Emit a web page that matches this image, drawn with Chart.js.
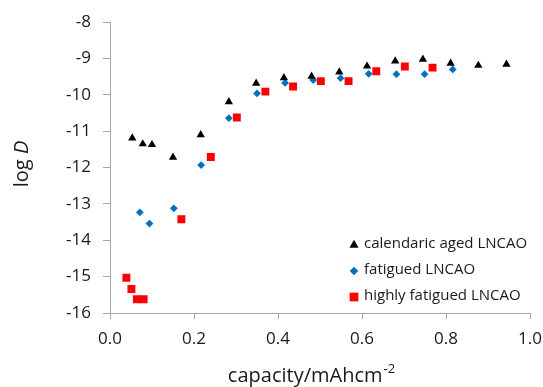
<!DOCTYPE html>
<html>
<head>
<meta charset="utf-8">
<script src="https://cdn.jsdelivr.net/npm/chart.js@4/dist/chart.umd.min.js"></script>
<style>
  html, body { margin: 0; padding: 0; background: #fff; }
  #wrap { width: 543px; height: 387px; position: relative; }
</style>
</head>
<body>
<div id="wrap"><canvas id="logD"></canvas></div>
<script>
// values
const calendaricX = [0.053, 0.078, 0.100, 0.150, 0.216, 0.283, 0.348, 0.414, 0.480, 0.546, 0.612, 0.679, 0.745, 0.811, 0.877, 0.944];
const calendaricY = [-11.19, -11.35, -11.37, -11.72, -11.10, -10.19, -9.68, -9.53, -9.49, -9.37, -9.21, -9.07, -9.02, -9.13, -9.19, -9.16];

const fatiguedX = [0.071, 0.094, 0.152, 0.217, 0.283, 0.350, 0.417, 0.484, 0.549, 0.616, 0.682, 0.749, 0.816];
const fatiguedY = [-13.23, -13.54, -13.12, -11.93, -10.64, -9.96, -9.67, -9.59, -9.54, -9.42, -9.43, -9.43, -9.30];

const highlyX = [0.039, 0.051, 0.064, 0.080, 0.170, 0.240, 0.302, 0.370, 0.436, 0.502, 0.568, 0.634, 0.702, 0.768];
const highlyY = [-15.03, -15.34, -15.62, -15.62, -13.42, -11.71, -10.62, -9.91, -9.77, -9.62, -9.62, -9.35, -9.22, -9.25];

const seriesNames = ['calendaric aged LNCAO', 'fatigued LNCAO', 'highly fatigued LNCAO'];
const xTicks = [0, 0.2, 0.4, 0.6, 0.8, 1.0];
const yTicks = [-16, -15, -14, -13, -12, -11, -10, -9, -8];

const FONT = '"Open Sans", "DejaVu Sans", sans-serif';
const AXIS_GREY = '#a6a6a6';

const toPoints = (xs, ys) => xs.map((x, i) => ({ x: x, y: ys[i] }));

// draws the in-plot legend and the two axis titles
const decorations = {
    id: 'decorations',
    afterDraw(chart) {
        const ctx = chart.ctx;
        ctx.save();

        // legend
        const rows = [244, 270, 296];
        ctx.font = '15px ' + FONT;
        ctx.textBaseline = 'middle';
        ctx.textAlign = 'left';
        chart.data.datasets.forEach((ds, i) => {
            const opts = {
                pointStyle: ds.pointStyle,
                radius: ds.pointRadius * 1.1,
                rotation: 0,
                borderWidth: 0
            };
            ctx.fillStyle = ds.backgroundColor;
            ctx.strokeStyle = ds.backgroundColor;
            Chart.helpers.drawPoint(ctx, opts, 354, rows[i] + 1);
            ctx.fillStyle = '#1a1a1a';
            ctx.fillText(ds.label, 364, rows[i]);
        });

        // x title with superscript
        ctx.fillStyle = '#1a1a1a';
        ctx.textBaseline = 'alphabetic';
        const main = 'capacity/mAhcm';
        ctx.font = '20px ' + FONT;
        const wMain = ctx.measureText(main).width;
        ctx.font = '13px ' + FONT;
        const wSup = ctx.measureText('-2').width;
        const x0 = 311 - (wMain + wSup) / 2;
        ctx.font = '20px ' + FONT;
        ctx.fillText(main, x0, 382);
        ctx.font = '13px ' + FONT;
        ctx.fillText('-2', x0 + wMain + 1, 373);

        // y title: log D (D italic)
        ctx.translate(28, 164);
        ctx.rotate(-Math.PI / 2);
        ctx.font = '20px ' + FONT;
        const a = 'log ';
        const wa = ctx.measureText(a).width;
        ctx.font = 'italic 20px ' + FONT;
        const wb = ctx.measureText('D').width;
        ctx.font = '20px ' + FONT;
        ctx.fillText(a, -(wa + wb) / 2, 0);
        ctx.font = 'italic 20px ' + FONT;
        ctx.fillText('D', -(wa + wb) / 2 + wa, 0);

        ctx.restore();
    }
};

const ctx = document.getElementById('logD').getContext('2d');
const chart = new Chart(ctx, {
    type: 'scatter',
    data: {
        datasets: [{
            label: seriesNames[0],
            data: toPoints(calendaricX, calendaricY),
            pointStyle: 'triangle',
            pointRadius: 4.8,
            backgroundColor: '#000000',
            borderColor: '#000000',
            pointBorderWidth: 0
        }, {
            label: seriesNames[1],
            data: toPoints(fatiguedX, fatiguedY),
            pointStyle: 'rectRot',
            pointRadius: 3.9,
            backgroundColor: '#0070c0',
            borderColor: '#0070c0',
            pointBorderWidth: 0
        }, {
            label: seriesNames[2],
            data: toPoints(highlyX, highlyY),
            pointStyle: 'rect',
            pointRadius: 5.6,
            backgroundColor: '#ff0000',
            borderColor: '#ff0000',
            pointBorderWidth: 0
        }]
    },
    options: {
        responsive: true,
        maintainAspectRatio: false,
        animation: false,
        layout: { padding: { top: 20, right: 13, left: 0, bottom: 0 } },
        plugins: {
            legend: { display: false },
            tooltip: { enabled: false }
        },
        scales: {
            x: {
                type: 'linear',
                min: 0,
                max: 1,
                afterBuildTicks: (scale) => { scale.ticks = xTicks.map(v => ({ value: v })); },
                afterFit: (scale) => {
                    scale.height = 74;
                    scale.paddingLeft = 0;
                    scale.paddingRight = 0;
                },
                ticks: {
                    color: '#1a1a1a',
                    font: { family: FONT, size: 17 },
                    padding: 10,
                    callback: (v) => v.toFixed(1)
                },
                grid: { drawOnChartArea: false, color: AXIS_GREY, tickLength: 6, tickColor: AXIS_GREY },
                border: { color: AXIS_GREY, width: 1 }
            },
            y: {
                type: 'linear',
                min: -16,
                max: -8,
                afterBuildTicks: (scale) => { scale.ticks = yTicks.map(v => ({ value: v })); },
                afterFit: (scale) => { scale.width = 110; },
                ticks: {
                    color: '#1a1a1a',
                    font: { family: FONT, size: 17 },
                    padding: 12,
                    callback: (v) => String(v)
                },
                grid: { drawOnChartArea: false, color: AXIS_GREY, tickLength: 7, tickColor: AXIS_GREY },
                border: { color: AXIS_GREY, width: 1 }
            }
        }
    },
    plugins: [decorations]
});
</script>
</body>
</html>
